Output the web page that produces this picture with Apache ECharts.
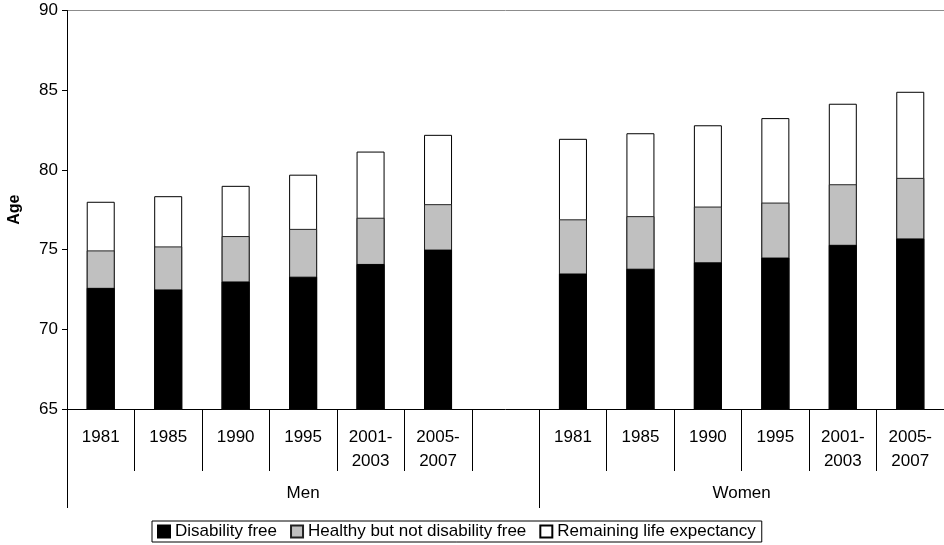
<!DOCTYPE html>
<html>
<head>
<meta charset="utf-8">
<script src="https://cdn.jsdelivr.net/npm/echarts@6/dist/echarts.min.js"></script>
<style>
  html, body { margin: 0; padding: 0; background: #fff; }
  #main { width: 944px; height: 545px; }
</style>
</head>
<body>
<div id="main"></div>
<script>
// x slots: 6 men periods, an empty gap slot, 6 women periods
var periods = ['1981', '1985', '1990', '1995', '2001-\n2003', '2005-\n2007', '',
  '1981', '1985', '1990', '1995', '2001-\n2003', '2005-\n2007'];
var groups = ['Men', 'Women'];
var seriesNames = ['Disability free', 'Healthy but not disability free', 'Remaining life expectancy'];

// age reached at the top of each segment ('-' = gap slot)
var disabilityFree = [72.6, 72.5, 73.0, 73.3, 74.1, 75.0, '-', 73.5, 73.8, 74.2, 74.5, 75.3, 75.7];
var healthy = [74.95, 75.2, 75.85, 76.3, 77.0, 77.85, '-', 76.9, 77.1, 77.7, 77.95, 79.1, 79.5];
var lifeExpectancy = [78.0, 78.35, 79.0, 79.7, 81.15, 82.2, '-', 81.95, 82.3, 82.8, 83.25, 84.15, 84.9];

var yTicks = [65, 70, 75, 80, 85, 90];

var font = 'Liberation Sans, Arial, sans-serif';
var fs = 17;
var chart = echarts.init(document.getElementById('main'));

var option = {
  animation: false,
  textStyle: { fontFamily: font },
  grid: { left: 67, right: 0, top: 10.5, bottom: 136, outerBoundsMode: 'none', containLabel: false },
  legend: {
    data: seriesNames,
    left: 152,
    top: 521,
    icon: 'rect',
    itemWidth: 12,
    itemHeight: 12,
    itemGap: 13,
    padding: [2, 6, 2, 5],
    borderColor: '#000',
    borderWidth: 1,
    textStyle: { color: '#000', fontSize: fs, fontFamily: font }
  },
  xAxis: [{
    type: 'category',
    data: periods,
    axisLine: { show: true, lineStyle: { color: '#000', width: 1 } },
    axisTick: { show: true, interval: 0, length: 62, lineStyle: { color: '#000' } },
    axisLabel: { interval: 0, margin: 16, color: '#000', fontSize: fs, lineHeight: 24 },
    splitLine: { show: false }
  }, {
    type: 'value',
    position: 'bottom',
    min: 0,
    max: 13,
    axisLine: { show: false },
    axisTick: { show: true, customValues: [0, 7], length: 99, lineStyle: { color: '#000' } },
    axisLabel: {
      customValues: [3.5, 10],
      margin: 76,
      color: '#000',
      fontSize: fs,
      formatter: function (v) { return v < 7 ? groups[0] : groups[1]; }
    },
    splitLine: { show: false }
  }],
  yAxis: {
    type: 'value',
    min: yTicks[0],
    max: yTicks[yTicks.length - 1],
    interval: 5,
    name: 'Age',
    nameLocation: 'middle',
    nameGap: 44,
    nameTextStyle: { color: '#000', fontSize: 16, fontWeight: 'bold' },
    axisLine: { show: true, lineStyle: { color: '#000' } },
    axisTick: { show: true, length: 5, lineStyle: { color: '#000' } },
    axisLabel: { color: '#000', fontSize: fs, margin: 9 },
    splitLine: {
      show: true,
      lineStyle: { color: ['rgba(0,0,0,0)', 'rgba(0,0,0,0)', 'rgba(0,0,0,0)', 'rgba(0,0,0,0)', 'rgba(0,0,0,0)', '#8c8c8c'], width: 1 }
    }
  },
  // drawn back to front, overlapping so each segment shows its own band
  series: [{
    name: seriesNames[2],
    type: 'bar',
    xAxisIndex: 0,
    data: lifeExpectancy,
    barWidth: 28,
    barGap: '-100%',
    itemStyle: { color: '#ffffff', borderColor: '#000', borderWidth: 1 }
  }, {
    name: seriesNames[1],
    type: 'bar',
    xAxisIndex: 0,
    data: healthy,
    barWidth: 28,
    barGap: '-100%',
    itemStyle: { color: '#c0c0c0', borderColor: '#222', borderWidth: 1 }
  }, {
    name: seriesNames[0],
    type: 'bar',
    xAxisIndex: 0,
    data: disabilityFree,
    barWidth: 28,
    barGap: '-100%',
    itemStyle: { color: '#000000', borderColor: '#000', borderWidth: 1 }
  }]
};

chart.setOption(option);
</script>
</body>
</html>
